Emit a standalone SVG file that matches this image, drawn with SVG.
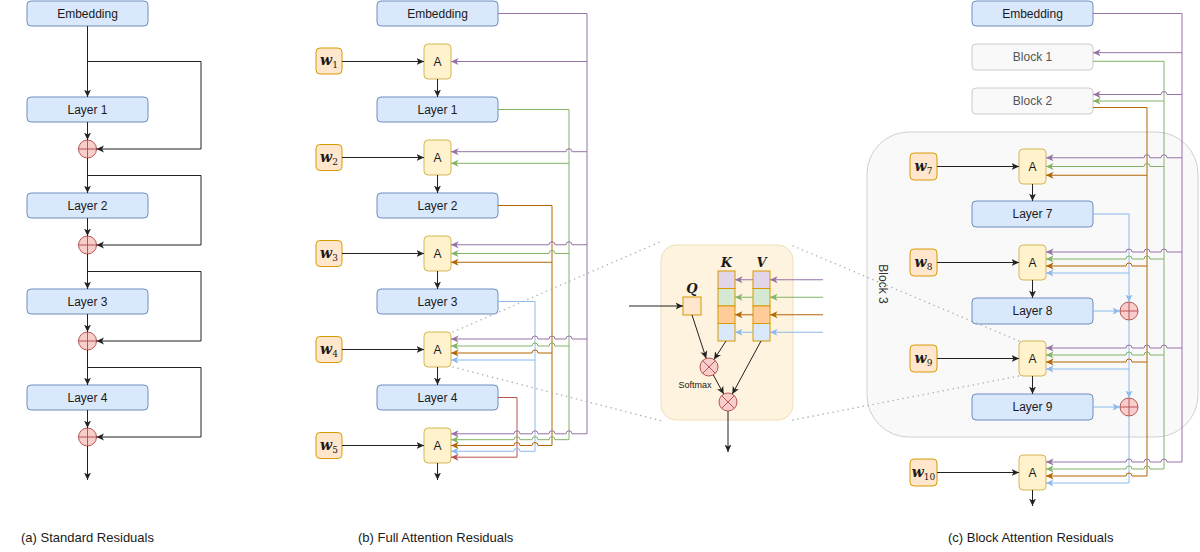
<svg xmlns="http://www.w3.org/2000/svg" width="1200" height="552" viewBox="0 0 1200 552">
<style>
.layer{fill:#dae8fc;stroke:#6c8ebf;stroke-width:1}
.abox{fill:#fff2cc;stroke:#d6b656;stroke-width:1}
.wbox{fill:#ffe6cc;stroke:#d79b00;stroke-width:1}
.blk{fill:#f9f9f9;stroke:#cccccc;stroke-width:1}
.circ{fill:#f8cecc;stroke:#b85450;stroke-width:1}
.cx{stroke:#b85450;stroke-width:1;fill:none}
.t{font-family:"Liberation Sans",Arial,sans-serif;font-size:12px;fill:#1a1a1a;text-anchor:middle}
.tg{font-family:"Liberation Sans",Arial,sans-serif;font-size:12px;fill:#555555;text-anchor:middle}
.cap{font-family:"Liberation Sans",Arial,sans-serif;font-size:13px;fill:#1a1a1a}
.w{font-family:"DejaVu Serif","Liberation Serif",serif;font-size:14px;font-weight:bold;font-style:italic;fill:#1a1a1a;text-anchor:middle}
.sub{font-size:9px;font-weight:normal;font-style:normal}
.m{font-family:"DejaVu Serif","Liberation Serif",serif;font-size:13px;font-weight:bold;font-style:italic;fill:#1a1a1a;text-anchor:middle}
.k{fill:none;stroke:#222;stroke-width:1}
.pu{fill:none;stroke:#9673a6;stroke-width:1}
.gr{fill:none;stroke:#82b366;stroke-width:1}
.or{fill:none;stroke:#b46504;stroke-width:1}
.bl{fill:none;stroke:#8cb9ee;stroke-width:1}
.rd{fill:none;stroke:#b85450;stroke-width:1}
.dot{fill:none;stroke:#b0b0b0;stroke-width:1.5;stroke-dasharray:0.1 5;stroke-linecap:round}
</style>
<defs>
<marker id="mk" viewBox="0 0 8 8" refX="7.5" refY="4" markerWidth="8" markerHeight="8" orient="auto" markerUnits="userSpaceOnUse"><path d="M0,0.5 L7.5,4 L0,7.5 L2,4 z" fill="#222"/></marker>
<marker id="mp" viewBox="0 0 8 8" refX="7.5" refY="4" markerWidth="8" markerHeight="8" orient="auto" markerUnits="userSpaceOnUse"><path d="M0,0.5 L7.5,4 L0,7.5 L2,4 z" fill="#9673a6"/></marker>
<marker id="mg" viewBox="0 0 8 8" refX="7.5" refY="4" markerWidth="8" markerHeight="8" orient="auto" markerUnits="userSpaceOnUse"><path d="M0,0.5 L7.5,4 L0,7.5 L2,4 z" fill="#82b366"/></marker>
<marker id="mo" viewBox="0 0 8 8" refX="7.5" refY="4" markerWidth="8" markerHeight="8" orient="auto" markerUnits="userSpaceOnUse"><path d="M0,0.5 L7.5,4 L0,7.5 L2,4 z" fill="#b46504"/></marker>
<marker id="mb" viewBox="0 0 8 8" refX="7.5" refY="4" markerWidth="8" markerHeight="8" orient="auto" markerUnits="userSpaceOnUse"><path d="M0,0.5 L7.5,4 L0,7.5 L2,4 z" fill="#8cb9ee"/></marker>
<marker id="mr" viewBox="0 0 8 8" refX="7.5" refY="4" markerWidth="8" markerHeight="8" orient="auto" markerUnits="userSpaceOnUse"><path d="M0,0.5 L7.5,4 L0,7.5 L2,4 z" fill="#b85450"/></marker>
</defs>

<!-- Block 3 container -->
<g id="block3">
<rect x="867" y="132" width="331" height="305" rx="42" fill="#f9f9f9" stroke="#d0d0d0"/>
<text class="t" style="fill:#333" transform="translate(883,284) rotate(90)" y="4">Block 3</text>
</g>

<!-- Inset -->
<g id="inset">
<rect x="661" y="245" width="132" height="175" rx="15" fill="#fdf3df" stroke="#efdfba"/>
<rect x="683" y="297" width="18" height="18" class="wbox"/>
<text class="m" x="692" y="293">Q</text>
<text class="m" x="726.5" y="267">K</text>
<text class="m" x="761.5" y="267">V</text>
<rect x="718" y="271" width="17" height="17.5" fill="#e1d5e7" stroke="#d79b00"/>
<rect x="718" y="288.5" width="17" height="17.5" fill="#d5e8d4" stroke="#d79b00"/>
<rect x="718" y="306" width="17" height="17.5" fill="#ffcc99" stroke="#d79b00"/>
<rect x="718" y="323.5" width="17" height="17.5" fill="#dae8fc" stroke="#d79b00"/>
<rect x="753" y="271" width="17" height="17.5" fill="#e1d5e7" stroke="#d79b00"/>
<rect x="753" y="288.5" width="17" height="17.5" fill="#d5e8d4" stroke="#d79b00"/>
<rect x="753" y="306" width="17" height="17.5" fill="#ffcc99" stroke="#d79b00"/>
<rect x="753" y="323.5" width="17" height="17.5" fill="#dae8fc" stroke="#d79b00"/>
<circle class="circ" cx="709" cy="367" r="9"/>
<path class="cx" d="M702.6,360.6 L715.4,373.4 M715.4,360.6 L702.6,373.4"/>
<circle class="circ" cx="728" cy="402" r="9"/>
<path class="cx" d="M721.6,395.6 L734.4,408.4 M734.4,395.6 L721.6,408.4"/>
<text x="695" y="388" style="font-family:'Liberation Sans',Arial,sans-serif;font-size:9px;fill:#1a1a1a;text-anchor:middle">Softmax</text>
</g>

<!-- Panel (a) nodes -->
<g id="a-embedding"><rect class="layer" x="27" y="1" width="121" height="25" rx="4"/><text class="t" x="87.5" y="17.5">Embedding</text></g>
<g id="a-layer1"><rect class="layer" x="27" y="97" width="121" height="25" rx="4"/><text class="t" x="87.5" y="113.5">Layer 1</text></g>
<g id="a-layer2"><rect class="layer" x="27" y="193" width="121" height="25" rx="4"/><text class="t" x="87.5" y="209.5">Layer 2</text></g>
<g id="a-layer3"><rect class="layer" x="27" y="289" width="121" height="25" rx="4"/><text class="t" x="87.5" y="305.5">Layer 3</text></g>
<g id="a-layer4"><rect class="layer" x="27" y="385" width="121" height="25" rx="4"/><text class="t" x="87.5" y="401.5">Layer 4</text></g>
<g id="a-add1"><circle class="circ" cx="87.5" cy="149" r="9"/><path class="cx" d="M78.5,149 H96.5 M87.5,140 V158"/></g>
<g id="a-add2"><circle class="circ" cx="87.5" cy="245" r="9"/><path class="cx" d="M78.5,245 H96.5 M87.5,236 V254"/></g>
<g id="a-add3"><circle class="circ" cx="87.5" cy="341" r="9"/><path class="cx" d="M78.5,341 H96.5 M87.5,332 V350"/></g>
<g id="a-add4"><circle class="circ" cx="87.5" cy="437" r="9"/><path class="cx" d="M78.5,437 H96.5 M87.5,428 V446"/></g>

<!-- Panel (b) nodes -->
<g id="b-embedding"><rect class="layer" x="377" y="1" width="121" height="25" rx="4"/><text class="t" x="437.5" y="17.5">Embedding</text></g>
<g id="b-layer1"><rect class="layer" x="377" y="97" width="121" height="25" rx="4"/><text class="t" x="437.5" y="113.5">Layer 1</text></g>
<g id="b-layer2"><rect class="layer" x="377" y="193" width="121" height="25" rx="4"/><text class="t" x="437.5" y="209.5">Layer 2</text></g>
<g id="b-layer3"><rect class="layer" x="377" y="289" width="121" height="25" rx="4"/><text class="t" x="437.5" y="305.5">Layer 3</text></g>
<g id="b-layer4"><rect class="layer" x="377" y="385" width="121" height="25" rx="4"/><text class="t" x="437.5" y="401.5">Layer 4</text></g>
<g id="b-a1"><rect class="abox" x="424" y="44" width="27" height="35" rx="4"/><text class="t" x="437.5" y="66">A</text></g>
<g id="b-a2"><rect class="abox" x="424" y="140" width="27" height="35" rx="4"/><text class="t" x="437.5" y="162">A</text></g>
<g id="b-a3"><rect class="abox" x="424" y="236" width="27" height="35" rx="4"/><text class="t" x="437.5" y="258">A</text></g>
<g id="b-a4"><rect class="abox" x="424" y="332" width="27" height="35" rx="4"/><text class="t" x="437.5" y="354">A</text></g>
<g id="b-a5"><rect class="abox" x="424" y="428" width="27" height="35" rx="4"/><text class="t" x="437.5" y="450">A</text></g>
<g id="b-w1"><rect class="wbox" x="316" y="48" width="26" height="26" rx="4"/><text class="w" x="329" y="65">w<tspan class="sub" dy="3">1</tspan></text></g>
<g id="b-w2"><rect class="wbox" x="316" y="144.5" width="26" height="26" rx="4"/><text class="w" x="329" y="161.5">w<tspan class="sub" dy="3">2</tspan></text></g>
<g id="b-w3"><rect class="wbox" x="316" y="240.5" width="26" height="26" rx="4"/><text class="w" x="329" y="257.5">w<tspan class="sub" dy="3">3</tspan></text></g>
<g id="b-w4"><rect class="wbox" x="316" y="336.5" width="26" height="26" rx="4"/><text class="w" x="329" y="353.5">w<tspan class="sub" dy="3">4</tspan></text></g>
<g id="b-w5"><rect class="wbox" x="316" y="432.5" width="26" height="26" rx="4"/><text class="w" x="329" y="449.5">w<tspan class="sub" dy="3">5</tspan></text></g>

<!-- Panel (c) nodes -->
<g id="c-embedding"><rect class="layer" x="972" y="1" width="121" height="25" rx="4"/><text class="t" x="1032.5" y="17.5">Embedding</text></g>
<g id="c-block1"><rect class="blk" x="972" y="44" width="121" height="26" rx="4"/><text class="tg" x="1032.5" y="61">Block 1</text></g>
<g id="c-block2"><rect class="blk" x="972" y="88" width="121" height="26" rx="4"/><text class="tg" x="1032.5" y="105">Block 2</text></g>
<g id="c-layer7"><rect class="layer" x="972" y="201" width="121" height="26" rx="4"/><text class="t" x="1032.5" y="218">Layer 7</text></g>
<g id="c-layer8"><rect class="layer" x="972" y="298" width="121" height="26" rx="4"/><text class="t" x="1032.5" y="315">Layer 8</text></g>
<g id="c-layer9"><rect class="layer" x="972" y="394" width="121" height="26" rx="4"/><text class="t" x="1032.5" y="411">Layer 9</text></g>
<g id="c-a7"><rect class="abox" x="1019" y="149" width="27" height="35" rx="4"/><text class="t" x="1032.5" y="171">A</text></g>
<g id="c-a8"><rect class="abox" x="1019" y="245" width="27" height="35" rx="4"/><text class="t" x="1032.5" y="267">A</text></g>
<g id="c-a9"><rect class="abox" x="1019" y="341" width="27" height="35" rx="4"/><text class="t" x="1032.5" y="363">A</text></g>
<g id="c-a10"><rect class="abox" x="1019" y="455" width="27" height="35" rx="4"/><text class="t" x="1032.5" y="477">A</text></g>
<g id="c-w7"><rect class="wbox" x="910" y="153" width="27" height="27" rx="4"/><text class="w" x="923.5" y="170.5">w<tspan class="sub" dy="3">7</tspan></text></g>
<g id="c-w8"><rect class="wbox" x="910" y="249" width="27" height="27" rx="4"/><text class="w" x="923.5" y="266.5">w<tspan class="sub" dy="3">8</tspan></text></g>
<g id="c-w9"><rect class="wbox" x="910" y="345" width="27" height="27" rx="4"/><text class="w" x="923.5" y="362.5">w<tspan class="sub" dy="3">9</tspan></text></g>
<g id="c-w10"><rect class="wbox" x="910" y="459" width="27" height="27" rx="4"/><text class="w" x="923.5" y="476.5">w<tspan class="sub" dy="3">10</tspan></text></g>
<g id="c-add8"><circle class="circ" cx="1129" cy="311" r="9"/><path class="cx" d="M1120,311 H1138 M1129,302 V320"/></g>
<g id="c-add9"><circle class="circ" cx="1129" cy="407" r="9"/><path class="cx" d="M1120,407 H1138 M1129,398 V416"/></g>

<!-- Connectors -->
<g id="connectors">
<!-- (a) -->
<path class="k" d="M87.5,26 V97" marker-end="url(#mk)"/>
<path class="k" d="M87.5,61.5 H201 V149 H96.5" marker-end="url(#mk)"/>
<path class="k" d="M87.5,122 V140" marker-end="url(#mk)"/>
<path class="k" d="M87.5,158 V193" marker-end="url(#mk)"/>
<path class="k" d="M87.5,175.5 H201 V245 H96.5" marker-end="url(#mk)"/>
<path class="k" d="M87.5,218 V236" marker-end="url(#mk)"/>
<path class="k" d="M87.5,254 V289" marker-end="url(#mk)"/>
<path class="k" d="M87.5,271.5 H201 V341 H96.5" marker-end="url(#mk)"/>
<path class="k" d="M87.5,314 V332" marker-end="url(#mk)"/>
<path class="k" d="M87.5,350 V385" marker-end="url(#mk)"/>
<path class="k" d="M87.5,367.5 H201 V437 H96.5" marker-end="url(#mk)"/>
<path class="k" d="M87.5,410 V428" marker-end="url(#mk)"/>
<path class="k" d="M87.5,446 V480" marker-end="url(#mk)"/>

<!-- (b) black -->
<path class="k" d="M342,61.5 H424" marker-end="url(#mk)"/>
<path class="k" d="M342,157.5 H424" marker-end="url(#mk)"/>
<path class="k" d="M342,253.5 H424" marker-end="url(#mk)"/>
<path class="k" d="M342,349.5 H424" marker-end="url(#mk)"/>
<path class="k" d="M342,445.5 H424" marker-end="url(#mk)"/>
<path class="k" d="M437.5,79 V97" marker-end="url(#mk)"/>
<path class="k" d="M437.5,175 V193" marker-end="url(#mk)"/>
<path class="k" d="M437.5,271 V289" marker-end="url(#mk)"/>
<path class="k" d="M437.5,367 V385" marker-end="url(#mk)"/>
<path class="k" d="M437.5,463 V480" marker-end="url(#mk)"/>
<!-- (b) verticals -->
<path class="pu" d="M498,13.5 H587 V433.8"/>
<path class="gr" d="M498,109.5 H569 V439.7"/>
<path class="or" d="M498,205.5 H552 V445.5"/>
<path class="bl" d="M498,301.5 H535 V451.3"/>
<path class="rd" d="M498,397.5 H517 V457.2"/>
<!-- (b) horizontals -->
<path class="pu" d="M587,61.5 H451" marker-end="url(#mp)"/>
<path class="pu" d="M587,151.7 H572 a3,3 0 0 0 -6,0 H451" marker-end="url(#mp)"/>
<path class="gr" d="M569,163.3 H451" marker-end="url(#mg)"/>
<path class="pu" d="M587,244.75 H572 a3,3 0 0 0 -6,0 H555 a3,3 0 0 0 -6,0 H451" marker-end="url(#mp)"/>
<path class="gr" d="M569,253.5 H555 a3,3 0 0 0 -6,0 H451" marker-end="url(#mg)"/>
<path class="or" d="M552,262.25 H451" marker-end="url(#mo)"/>
<path class="pu" d="M587,339 H572 a3,3 0 0 0 -6,0 H555 a3,3 0 0 0 -6,0 H538 a3,3 0 0 0 -6,0 H451" marker-end="url(#mp)"/>
<path class="gr" d="M569,346 H555 a3,3 0 0 0 -6,0 H538 a3,3 0 0 0 -6,0 H451" marker-end="url(#mg)"/>
<path class="or" d="M552,353 H538 a3,3 0 0 0 -6,0 H451" marker-end="url(#mo)"/>
<path class="bl" d="M535,360 H451" marker-end="url(#mb)"/>
<path class="pu" d="M587,433.8 H572 a3,3 0 0 0 -6,0 H555 a3,3 0 0 0 -6,0 H538 a3,3 0 0 0 -6,0 H520 a3,3 0 0 0 -6,0 H451" marker-end="url(#mp)"/>
<path class="gr" d="M569,439.7 H555 a3,3 0 0 0 -6,0 H538 a3,3 0 0 0 -6,0 H520 a3,3 0 0 0 -6,0 H451" marker-end="url(#mg)"/>
<path class="or" d="M552,445.5 H538 a3,3 0 0 0 -6,0 H520 a3,3 0 0 0 -6,0 H451" marker-end="url(#mo)"/>
<path class="bl" d="M535,451.3 H520 a3,3 0 0 0 -6,0 H451" marker-end="url(#mb)"/>
<path class="rd" d="M517,457.2 H451" marker-end="url(#mr)"/>

<!-- zoom dotted lines -->
<path class="dot" d="M453,332 L662,241"/>
<path class="dot" d="M453,367 L662,421"/>
<path class="dot" d="M793,246 L1019,341"/>
<path class="dot" d="M793,420 L1019,376"/>

<!-- inset connectors -->
<path class="k" d="M629,306 H683" marker-end="url(#mk)"/>
<path class="pu" d="M823,279.75 H770" marker-end="url(#mp)"/>
<path class="gr" d="M823,297.25 H770" marker-end="url(#mg)"/>
<path class="or" d="M823,314.75 H770" marker-end="url(#mo)"/>
<path class="bl" d="M823,332.25 H770" marker-end="url(#mb)"/>
<path class="pu" d="M753,279.75 H735" marker-end="url(#mp)"/>
<path class="gr" d="M753,297.25 H735" marker-end="url(#mg)"/>
<path class="or" d="M753,314.75 H735" marker-end="url(#mo)"/>
<path class="bl" d="M753,332.25 H735" marker-end="url(#mb)"/>
<path class="k" d="M692,315 L706.2,358.4" marker-end="url(#mk)"/>
<path class="k" d="M726,341 L714,359.5" marker-end="url(#mk)"/>
<path class="k" d="M713.3,374.9 L723.7,394.1" marker-end="url(#mk)"/>
<path class="k" d="M761,341 L732.3,394.1" marker-end="url(#mk)"/>
<path class="k" d="M728,411 V452" marker-end="url(#mk)"/>

<!-- (c) black -->
<path class="k" d="M937,166.5 H1019" marker-end="url(#mk)"/>
<path class="k" d="M937,262.5 H1019" marker-end="url(#mk)"/>
<path class="k" d="M937,358.5 H1019" marker-end="url(#mk)"/>
<path class="k" d="M937,472.5 H1019" marker-end="url(#mk)"/>
<path class="k" d="M1032.5,184 V201" marker-end="url(#mk)"/>
<path class="k" d="M1032.5,280 V298" marker-end="url(#mk)"/>
<path class="k" d="M1032.5,376 V394" marker-end="url(#mk)"/>
<path class="k" d="M1032.5,490 V506" marker-end="url(#mk)"/>
<!-- (c) verticals -->
<path class="pu" d="M1093,13.5 H1182 V462"/>
<path class="gr" d="M1093,61.3 H1164 V469"/>
<path class="or" d="M1093,107.5 H1147 V476"/>
<path class="bl" d="M1093,214 H1129 V302" marker-end="url(#mb)"/>
<path class="bl" d="M1093,311 H1120" marker-end="url(#mb)"/>
<path class="bl" d="M1129,320 V398" marker-end="url(#mb)"/>
<path class="bl" d="M1093,407 H1120" marker-end="url(#mb)"/>
<path class="bl" d="M1129,416 V483"/>
<!-- (c) horizontals -->
<path class="pu" d="M1182,52.7 H1093" marker-end="url(#mp)"/>
<path class="pu" d="M1182,94.5 H1167 a3,3 0 0 0 -6,0 H1093" marker-end="url(#mp)"/>
<path class="gr" d="M1164,101 H1093" marker-end="url(#mg)"/>
<path class="pu" d="M1182,157.75 H1167 a3,3 0 0 0 -6,0 H1150 a3,3 0 0 0 -6,0 H1046" marker-end="url(#mp)"/>
<path class="gr" d="M1164,166.5 H1150 a3,3 0 0 0 -6,0 H1046" marker-end="url(#mg)"/>
<path class="or" d="M1147,175.25 H1046" marker-end="url(#mo)"/>
<path class="pu" d="M1182,252 H1167 a3,3 0 0 0 -6,0 H1150 a3,3 0 0 0 -6,0 H1132 a3,3 0 0 0 -6,0 H1046" marker-end="url(#mp)"/>
<path class="gr" d="M1164,259 H1150 a3,3 0 0 0 -6,0 H1132 a3,3 0 0 0 -6,0 H1046" marker-end="url(#mg)"/>
<path class="or" d="M1147,266 H1132 a3,3 0 0 0 -6,0 H1046" marker-end="url(#mo)"/>
<path class="bl" d="M1129,273 H1046" marker-end="url(#mb)"/>
<path class="pu" d="M1182,348 H1167 a3,3 0 0 0 -6,0 H1150 a3,3 0 0 0 -6,0 H1132 a3,3 0 0 0 -6,0 H1046" marker-end="url(#mp)"/>
<path class="gr" d="M1164,355 H1150 a3,3 0 0 0 -6,0 H1132 a3,3 0 0 0 -6,0 H1046" marker-end="url(#mg)"/>
<path class="or" d="M1147,362 H1132 a3,3 0 0 0 -6,0 H1046" marker-end="url(#mo)"/>
<path class="bl" d="M1129,369 H1046" marker-end="url(#mb)"/>
<path class="pu" d="M1182,462 H1167 a3,3 0 0 0 -6,0 H1150 a3,3 0 0 0 -6,0 H1132 a3,3 0 0 0 -6,0 H1046" marker-end="url(#mp)"/>
<path class="gr" d="M1164,469 H1150 a3,3 0 0 0 -6,0 H1132 a3,3 0 0 0 -6,0 H1046" marker-end="url(#mg)"/>
<path class="or" d="M1147,476 H1132 a3,3 0 0 0 -6,0 H1046" marker-end="url(#mo)"/>
<path class="bl" d="M1129,483 H1046" marker-end="url(#mb)"/>
</g>

<!-- captions -->
<text class="cap" x="21" y="542">(a) Standard Residuals</text>
<text class="cap" x="358" y="542">(b) Full Attention Residuals</text>
<text class="cap" x="948" y="542">(c) Block Attention Residuals</text>
</svg>
